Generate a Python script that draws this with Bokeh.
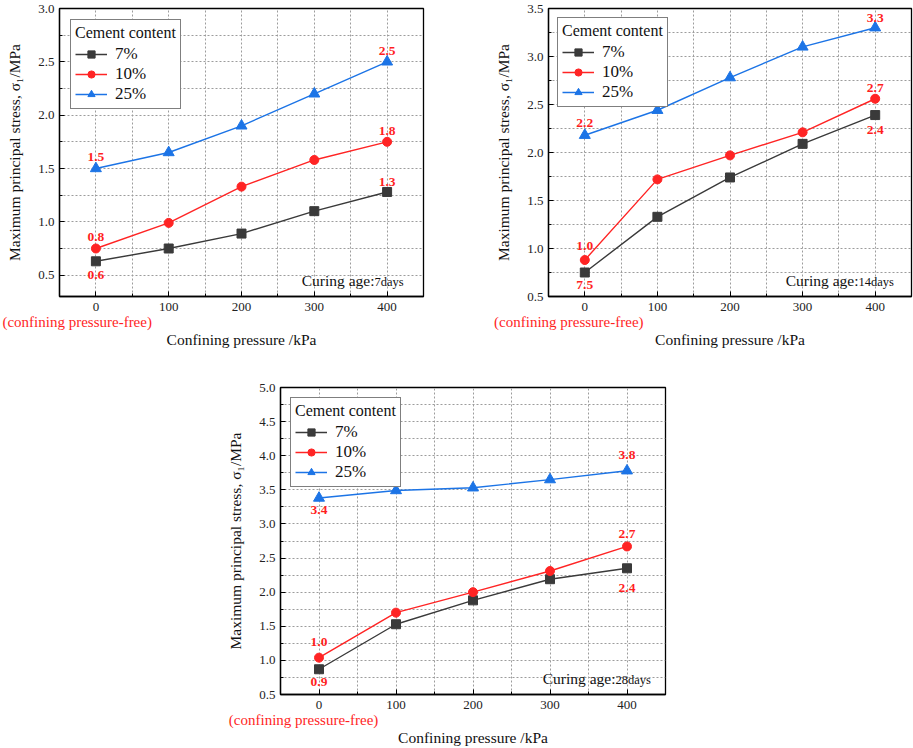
from bokeh.plotting import figure
from bokeh.layouts import column, row
from bokeh.models import (FixedTicker, Label, Spacer, ColumnDataSource, LinearAxis,
                          NumeralTickFormatter)
from bokeh.embed import file_html
from bokeh.resources import INLINE
from bokeh.core.properties import value

# ---------------- data ----------------
pressure = [0, 100, 200, 300, 400]
x_minor = [-50, 50, 150, 250, 350, 450]
series_names = ["7%", "10%", "25%"]

d7_c7 = [0.63, 0.75, 0.89, 1.10, 1.28]
d7_c10 = [0.75, 0.99, 1.33, 1.58, 1.75]
d7_c25 = [1.50, 1.65, 1.90, 2.20, 2.50]

d14_c7 = [0.75, 1.33, 1.74, 2.09, 2.39]
d14_c10 = [0.88, 1.72, 1.97, 2.21, 2.56]
d14_c25 = [2.18, 2.44, 2.78, 3.10, 3.30]

d28_c7 = [0.87, 1.53, 1.88, 2.19, 2.35]
d28_c10 = [1.04, 1.70, 2.00, 2.31, 2.67]
d28_c25 = [3.38, 3.49, 3.53, 3.65, 3.78]

# value notes: series index, point index, text
d7_note_series = [2, 1, 0, 2, 1, 0]
d7_note_point = [0, 0, 0, 4, 4, 4]
d7_note_text = ["1.5", "0.8", "0.6", "2.5", "1.8", "1.3"]

d14_note_series = [2, 1, 0, 2, 1, 0]
d14_note_point = [0, 0, 0, 4, 4, 4]
d14_note_text = ["2.2", "1.0", "7.5", "3.3", "2.7", "2.4"]

d28_note_series = [2, 1, 0, 2, 1, 0]
d28_note_point = [0, 0, 0, 4, 4, 4]
d28_note_text = ["3.4", "1.0", "0.9", "3.8", "2.7", "2.4"]

y7_major = [0.5, 1.0, 1.5, 2.0, 2.5, 3.0]
y7_minor = [0.75, 1.25, 1.75, 2.25, 2.75]
y14_major = [0.5, 1.0, 1.5, 2.0, 2.5, 3.0, 3.5]
y14_minor = [0.75, 1.25, 1.75, 2.25, 2.75, 3.25]
y28_major = [0.5, 1.0, 1.5, 2.0, 2.5, 3.0, 3.5, 4.0, 4.5, 5.0]
y28_minor = [0.75, 1.25, 1.75, 2.25, 2.75, 3.25, 3.75, 4.25, 4.75]

FREE_TEXT = "(confining pressure-free)"
X_TITLE = "Confining pressure /kPa"
Y_TITLE = "Maximum principal stress, σ₁/MPa"
LEGEND_TITLE = "Cement content"

# ---------------- styles ----------------
FONT = "Liberation Serif"
RED = "#ff1f1f"
STYLES = [("#3a3a3a", "square", 9), ("#ff2424", "circle", 9), ("#1c74e6", "triangle", 11)]


def make_panel(width, height, borders, y_range, y_major, y_minor, series,
               note_series, note_point, note_text, note_offsets,
               free_pos, days, age_x, legend_margin):
    left, right, top, bottom = borders
    p = figure(width=width, height=height, x_range=(-50, 450), y_range=y_range,
               output_backend="svg", toolbar_location=None)
    p.min_border = 0
    p.min_border_left = left
    p.min_border_right = right
    p.min_border_top = top
    p.min_border_bottom = bottom
    p.background_fill_color = "white"
    p.border_fill_color = "white"
    p.outline_line_color = "black"
    p.outline_line_width = 1.3

    xt = FixedTicker(ticks=pressure, minor_ticks=x_minor)
    yt = FixedTicker(ticks=y_major, minor_ticks=y_minor)
    p.xaxis.ticker = xt
    p.yaxis.ticker = yt
    p.xgrid.ticker = xt
    p.ygrid.ticker = yt
    for g in (p.xgrid[0], p.ygrid[0]):
        g.grid_line_color = "#9c9c9c"
        g.grid_line_dash = "2 2"
        g.grid_line_width = 1
        g.minor_grid_line_color = "#9c9c9c"
        g.minor_grid_line_dash = "2 2"
        g.minor_grid_line_width = 1

    p.yaxis.formatter = NumeralTickFormatter(format="0.0")
    for ax in (p.xaxis[0], p.yaxis[0]):
        ax.axis_line_color = "black"
        ax.axis_line_width = 1.3
        ax.major_tick_in = 5
        ax.major_tick_out = 0
        ax.minor_tick_in = 3
        ax.minor_tick_out = 0
        ax.major_tick_line_color = "black"
        ax.minor_tick_line_color = "black"
        ax.major_label_text_font = FONT
        ax.major_label_text_font_size = "13px"
        ax.major_label_text_color = "#222222"
        ax.axis_label_text_font = FONT
        ax.axis_label_text_font_size = "15.5px"
        ax.axis_label_text_font_style = "normal"
        ax.axis_label_text_color = "#111111"
        ax.axis_label_standoff = 12
    p.xaxis.major_label_standoff = 6
    p.yaxis.major_label_standoff = 5
    p.yaxis.axis_label = Y_TITLE

    # second bottom axis carrying the red note and the x title
    ax2 = LinearAxis(ticker=FixedTicker(ticks=[free_pos], minor_ticks=[]),
                     major_label_overrides={free_pos: FREE_TEXT},
                     axis_label=X_TITLE)
    ax2.axis_line_color = None
    ax2.major_tick_line_color = None
    ax2.minor_tick_line_color = None
    ax2.major_tick_in = 0
    ax2.major_tick_out = 0
    ax2.major_label_standoff = 0
    ax2.major_label_text_font = FONT
    ax2.major_label_text_font_size = "15px"
    ax2.major_label_text_color = RED
    ax2.axis_label_text_font = FONT
    ax2.axis_label_text_font_size = "15.5px"
    ax2.axis_label_text_font_style = "normal"
    ax2.axis_label_text_color = "#111111"
    ax2.axis_label_standoff = -2
    p.add_layout(ax2, "below")

    for name, vals, (col, mk, sz) in zip(series_names, series, STYLES):
        p.line(pressure, vals, line_color=col, line_width=1.4, legend_label=name)
        p.scatter(pressure, vals, marker=mk, size=sz, fill_color=col,
                  line_color=col, legend_label=name)

    src = ColumnDataSource(dict(
        x=[pressure[j] for j in note_point],
        y=[series[i][j] for i, j in zip(note_series, note_point)],
        t=note_text,
        off=note_offsets,
    ))
    p.text("x", "y", text="t", y_offset="off", source=src,
           text_font=value(FONT), text_font_style="bold", text_font_size="13.5px",
           text_color=RED, text_align="center", text_baseline="middle")

    p.add_layout(Label(x=age_x, y=16, x_units="screen", y_units="screen",
                       text="Curing age:", text_align="right", text_baseline="middle",
                       text_font=FONT, text_font_size="15.5px", text_color="#111111"))
    p.add_layout(Label(x=age_x, y=15, x_units="screen", y_units="screen",
                       text=f"{days}days", text_align="left", text_baseline="middle",
                       text_font=FONT, text_font_size="12.5px", text_color="#111111"))

    lg = p.legend[0]
    lg.title = LEGEND_TITLE
    lg.location = "top_left"
    lg.margin = legend_margin
    lg.padding = 4
    lg.spacing = 0
    lg.title_standoff = 2
    lg.title_text_font = FONT
    lg.title_text_font_size = "16px"
    lg.title_text_font_style = "normal"
    lg.title_text_color = "#111111"
    lg.label_text_font = FONT
    lg.label_text_font_size = "17px"
    lg.label_text_color = "#111111"
    lg.glyph_width = 32
    lg.glyph_height = 18
    lg.label_height = 18
    lg.label_standoff = 8
    lg.border_line_color = "black"
    lg.border_line_width = 1.3
    lg.background_fill_color = "white"
    lg.background_fill_alpha = 1.0
    return p


p1 = make_panel(440, 350, (59, 17, 4, 51), (0.3, 3.0), y7_major, y7_minor,
                [d7_c7, d7_c10, d7_c25], d7_note_series, d7_note_point, d7_note_text,
                [-12, -12, 14, -11, -11, -10], -31, 7, 315, 11)
p2 = make_panel(473, 350, (108, 2, 8, 48), (0.5, 3.5), y14_major, y14_minor,
                [d14_c7, d14_c10, d14_c25], d14_note_series, d14_note_point, d14_note_text,
                [-12, -14, 12, -10, -11, 15], -22, 14, 310, 9)
p3 = make_panel(467, 398, (70, 12, 37, 51), (0.5, 5.0), y28_major, y28_minor,
                [d28_c7, d28_c10, d28_c25], d28_note_series, d28_note_point, d28_note_text,
                [12, -16, 13, -16, -12, 20], -20, 28, 335, 10)

layout = column(row(p1, p2), row(Spacer(width=210, height=398), p3))

with open("out.html", "w") as f:
    f.write(file_html(layout, INLINE))
